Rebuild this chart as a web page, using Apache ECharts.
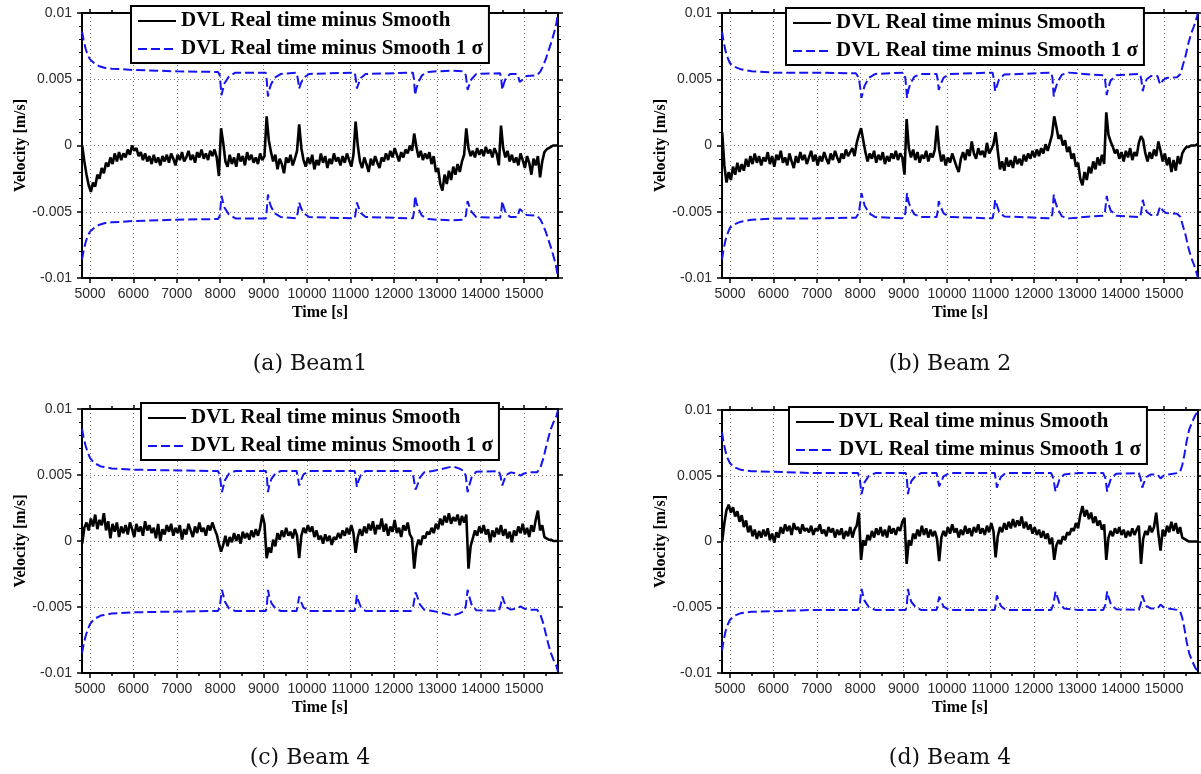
<!DOCTYPE html>
<html><head><meta charset="utf-8">
<script src="https://cdn.jsdelivr.net/npm/echarts@6/dist/echarts.min.js"></script>
<style>html,body{margin:0;padding:0;background:#fff;}#c{width:1201px;height:774px;}</style>
</head><body><div id="c"></div>
<script>
// ---- axis range and tick values ----
const X_MIN = 4816, X_MAX = 15783;
const xTickLabels = [5000,6000,7000,8000,9000,10000,11000,12000,13000,14000,15000];
const xMinorTicks = [5500,6500,7500,8500,9500,10500,11500,12500,13500,14500,15500];
const NAME1 = 'DVL Real time minus Smooth';
const NAME2 = 'DVL Real time minus Smooth 1 σ';
const captions = ['(a) Beam1', '(b) Beam 2', '(c) Beam 4', '(d) Beam 4'];

// ---- time samples [s] of the real-time-minus-smooth signal ----
const T = [
4820,4870,4920,4970,5020,5070,5120,5170,5220,5270,5320,5370,5420,5470,5520,5570,5620,5670,5720,5770,
5820,5870,5920,5970,6020,6070,6120,6170,6220,6270,6320,6370,6420,6470,6520,6570,6620,6670,6720,6770,
6820,6870,6920,6970,7020,7070,7120,7170,7220,7270,7320,7370,7420,7470,7520,7570,7620,7670,7720,7770,
7820,7870,7920,7970,8020,8070,8120,8170,8220,8270,8320,8370,8420,8470,8520,8570,8620,8670,8720,8770,
8820,8870,8920,8970,9020,9070,9120,9170,9220,9270,9320,9370,9420,9470,9520,9570,9620,9670,9720,9770,
9820,9870,9920,9970,10020,10070,10120,10170,10220,10270,10320,10370,10420,10470,10520,10570,10620,10670,10720,10770,
10820,10870,10920,10970,11020,11070,11120,11170,11220,11270,11320,11370,11420,11470,11520,11570,11620,11670,11720,11770,
11820,11870,11920,11970,12020,12070,12120,12170,12220,12270,12320,12370,12420,12470,12520,12570,12620,12670,12720,12770,
12820,12870,12920,12970,13020,13070,13120,13170,13220,13270,13320,13370,13420,13470,13520,13570,13620,13670,13720,13770,
13820,13870,13920,13970,14020,14070,14120,14170,14220,14270,14320,14370,14420,14470,14520,14570,14620,14670,14720,14770,
14820,14870,14920,14970,15020,15070,15120,15170,15220,15270,15320,15370,15420,15470,15520,15570,15620,15670,15720,15770];

// ---- DVL real time minus smooth, in units of 1e-4 m/s ----
const blackA = [
0,-12,-22,-30,-35,-28,-31,-22,-25,-17,-21,-13,-16,-9,-14,-6,-12,-5,-11,-6,
-9,-3,-7,0,-4,-2,-8,-5,-11,-6,-12,-8,-14,-7,-13,-9,-15,-8,-12,-7,
-13,-6,-10,-15,-7,-11,-5,-12,-9,-4,-11,-7,-13,-5,-9,-3,-10,-6,-11,-4,
-8,-3,-9,-23,13,2,-12,-16,-7,-14,-9,-16,-6,-12,-8,-15,-5,-11,-7,-13,
-9,-14,-6,-11,-8,22,4,-5,-12,-7,-18,-10,-14,-21,-9,-13,-7,-15,-10,-4,
16,-2,-11,-16,-9,-14,-7,-18,-11,-15,-6,-13,-8,-17,-10,-14,-6,-12,-9,-15,
-8,-13,-6,-11,-16,-7,18,0,-12,-17,-9,-14,-20,-10,-15,-8,-13,-17,-9,-12,
-6,-11,-4,-9,-2,-7,-12,-5,-9,-3,-6,0,-4,9,-1,-9,-4,-11,-6,-10,
-5,-14,-8,-20,-17,-29,-34,-22,-29,-19,-26,-16,-22,-14,-20,-12,-7,13,-2,-8,
-4,-9,-2,-7,-3,-8,-1,-6,-3,-9,-2,-6,-15,15,-2,-9,-4,-12,-7,-13,
-9,-15,-6,-11,-17,-8,-13,-22,-10,-15,-8,-24,-12,-5,-3,-2,-1,0,0,0];
const blackB = [
10,-15,-28,-20,-26,-16,-22,-13,-20,-14,-19,-10,-16,-8,-14,-6,-13,-8,-15,-9,
-12,-5,-14,-8,-16,-7,-11,-4,-13,-9,-15,-6,-12,-17,-8,-13,-5,-11,-7,-14,
-9,-4,-12,-7,-15,-8,-12,-5,-10,-14,-6,-11,-4,-9,-13,-6,-10,-3,-8,-5,
-2,-8,2,8,13,4,-5,-12,-6,-10,-4,-13,-7,-11,-5,-14,-8,-12,-6,-10,
-4,-11,-6,-9,-22,20,-2,-9,-3,-11,-5,-13,-7,-10,-4,-12,-6,-9,-3,15,
-3,-12,-7,-15,-9,-13,-6,-11,-16,-20,-10,-5,-11,-3,-8,3,-6,-10,-2,-7,
-4,-9,2,-6,-3,1,10,-4,-18,-12,-19,-9,-16,-11,-17,-8,-14,-10,-15,-7,
-12,-6,-10,-4,-9,-3,-8,-2,-6,1,-4,2,8,22,14,5,8,0,4,-5,
-1,-10,-6,-16,-13,-25,-30,-20,-26,-16,-21,-12,-18,-9,-15,-7,-14,25,8,3,
-1,-6,-3,-10,-5,-12,-4,-9,-2,-11,-5,-8,2,7,4,-6,-12,-5,-10,-3,
-8,3,-4,-12,-6,-15,-9,-20,-11,-19,-8,-14,-6,-3,-1,-1,0,0,0,1];
const blackC = [
-2,10,14,8,17,11,20,9,16,12,21,8,15,2,13,7,14,3,11,6,
12,5,14,9,3,13,7,11,4,15,8,12,6,10,2,13,0,9,5,12,
7,13,4,10,6,12,1,9,5,13,8,3,11,6,14,7,10,4,12,8,
14,9,5,-2,-8,-3,4,-4,3,-1,6,0,5,-2,7,2,6,1,8,3,
9,4,10,20,13,-13,-5,-9,1,-4,6,1,8,3,10,4,7,2,9,4,
-13,4,10,6,12,7,11,3,8,1,4,-2,5,0,4,-3,3,1,6,2,
8,4,10,5,12,6,-9,3,9,4,11,6,13,8,15,5,12,9,17,7,
13,4,11,7,16,6,10,3,12,8,14,5,2,-21,-5,1,-3,4,2,7,
5,10,6,13,9,17,12,19,14,21,13,18,15,20,12,19,14,20,-21,-4,
2,8,4,11,6,12,5,9,-1,8,3,10,5,12,4,9,2,7,-1,8,
4,11,6,13,5,10,3,12,7,16,23,8,12,3,2,1,1,0,0,0];
const blackD = [
0,14,24,28,22,26,19,23,15,20,11,16,7,12,4,9,2,8,3,9,
4,10,1,6,-1,7,3,11,6,13,8,12,5,14,9,11,6,13,8,10,
7,12,5,10,8,13,6,9,4,11,7,10,3,9,5,10,2,8,4,11,
3,9,12,22,-14,1,-3,5,1,8,3,10,5,11,4,9,3,12,6,10,
5,11,8,15,18,-17,1,-3,6,2,9,4,12,5,10,3,9,4,8,2,
-15,3,8,4,11,6,13,7,10,3,9,5,12,6,10,4,11,7,13,6,
10,5,12,7,14,8,-12,4,11,7,14,9,15,10,17,11,16,12,19,10,
15,9,13,6,11,5,9,3,8,2,6,-2,3,-14,-3,1,-2,4,1,7,
5,10,8,14,10,20,27,19,24,17,22,14,19,12,16,9,13,-14,3,8,
4,10,6,11,5,9,3,8,4,10,5,9,12,-17,2,8,5,12,7,11,
22,6,-7,9,4,12,7,15,8,14,6,11,3,2,1,0,0,0,0,0];

// ---- 1 sigma envelope [time s, sigma in 1e-4 m/s]; plotted as +sigma and -sigma ----
const sigmaA = [[4816,86],[4850,80],[4900,73],[4950,68],[5000,65],[5100,62],[5200,60],[5350,58.5],[5500,58],[6000,57],[7000,56],[7950,55.5],[7990,53],[8030,38],[8060,42],[8100,47],[8200,52],[8350,55],[9050,55],[9070,50],[9100,37],[9130,42],[9170,46],[9250,51],[9400,54],[9760,55],[9790,50],[9820,43],[9860,47],[9920,51],[10050,54],[11100,55],[11125,50],[11150,43],[11180,46],[11240,51],[11350,54],[12440,55],[12465,50],[12490,38],[12520,43],[12570,48],[12650,53],[12800,55.5],[13000,56],[13300,56.5],[13600,56],[13660,53],[13700,42],[13730,45],[13790,50],[13900,54],[14450,54.5],[14475,50],[14500,42],[14530,46],[14580,51],[14680,54],[14850,54],[14900,48],[14930,47],[14980,50],[15060,52.5],[15300,53],[15380,56],[15440,60],[15510,66],[15570,72],[15640,79],[15700,86],[15750,93],[15783,100]];
const sigmaB = [[4816,86],[4850,79],[4900,71],[4950,66],[5000,62],[5100,59.5],[5250,57.5],[5500,56],[6000,55],[7000,55],[7900,54.5],[7970,51],[8030,36],[8060,40],[8100,45],[8200,51],[8350,54],[9000,55],[9040,51],[9080,36],[9110,42],[9160,47],[9250,52],[9400,54],[9760,54],[9790,49],[9810,42],[9850,46],[9920,51],[10050,54],[11050,55],[11080,50],[11110,41],[11140,44],[11200,50],[11320,53.5],[12400,55],[12430,51],[12460,37],[12490,42],[12550,48],[12650,53.5],[12800,55],[13000,54.5],[13300,53.5],[13600,53],[13640,50],[13680,38],[13710,43],[13770,49],[13900,53],[14450,54],[14480,49],[14510,41],[14540,45],[14600,50],[14700,52.5],[14850,52.5],[14890,48],[14920,46],[14970,49],[15050,51],[15300,51.5],[15380,54],[15430,60],[15500,68],[15560,77],[15630,85],[15690,90],[15740,95],[15783,100]];
const sigmaC = [[4816,85],[4850,79],[4900,72],[4950,67],[5000,63],[5100,59],[5250,56.5],[5500,55],[6000,54],[7000,53.5],[7950,53],[7990,50],[8040,37],[8070,41],[8110,46],[8200,51],[8350,53],[9050,53],[9075,49],[9100,37],[9130,42],[9180,47],[9280,51.5],[9400,53],[9760,53],[9790,48],[9820,42],[9860,46],[9920,50.5],[10050,53],[11100,53],[11125,48],[11150,41],[11180,45],[11240,50],[11350,53],[12400,53],[12450,49],[12500,39],[12540,42],[12600,48],[12700,52],[12900,53],[13100,54.5],[13350,56.5],[13500,55],[13620,53],[13660,49],[13700,37],[13730,41],[13790,48],[13900,52.5],[14420,53],[14460,49],[14500,42],[14530,45],[14590,50],[14700,52],[14850,51],[14920,49.5],[14990,51],[15100,52],[15300,52],[15380,56],[15440,62],[15500,70],[15560,78],[15620,85],[15680,90],[15750,95],[15783,99]];
const sigmaD = [[4816,83],[4850,76],[4900,68],[4950,63],[5000,59.5],[5100,56.5],[5250,54.5],[5500,53.5],[6000,53],[7000,52],[7950,52],[7990,48],[8030,36],[8060,40],[8100,45],[8200,50],[8350,52],[9050,52],[9075,48],[9100,36],[9130,41],[9180,46],[9280,50],[9400,52],[9760,52],[9790,47],[9820,42],[9860,45],[9920,49.5],[10050,52],[11100,52],[11125,47],[11150,41],[11180,44],[11240,49],[11350,52],[12400,52],[12450,48],[12500,38],[12530,41],[12590,47],[12700,51],[13000,52],[13600,52],[13650,48],[13690,38],[13720,42],[13780,48],[13900,51.5],[14420,52],[14460,48],[14500,41],[14530,44],[14590,49],[14700,51],[14850,51],[14920,48],[14990,50],[15100,51],[15300,52],[15370,53],[15420,58],[15470,66],[15520,76],[15580,85],[15650,91],[15720,96],[15783,99]];

// ---- layout (positions only) ----
const layout = [
  {left:82,  top:13,  width:476, height:265, legLeft:131, legTop:6,   capX:310, capY:364},
  {left:722, top:13,  width:476, height:265, legLeft:786, legTop:8,   capX:950, capY:364},
  {left:82,  top:409, width:476, height:264, legLeft:141, legTop:403, capX:310, capY:758},
  {left:722, top:410, width:476, height:263, legLeft:789, legTop:407, capX:950, capY:758}
];
const blackSets = [blackA, blackB, blackC, blackD];
const sigmaSets = [sigmaA, sigmaB, sigmaC, sigmaD];
const BLUE = '#1414f0';
const UNIT = 1e-4;

const grids = [], xAxes = [], yAxes = [], series = [], legends = [], graphics = [];
const labelFont = {fontFamily: 'Liberation Sans', fontSize: 14, color: '#2a2a2a'};
const nameFont = {fontFamily: 'Liberation Serif', fontWeight: 'bold', fontSize: 16, color: '#000'};
const gridLineStyle = {color: '#7a7a7a', width: 1, type: [1, 3]};
const tickLS = {color: '#000', width: 1.5};

layout.forEach((L, p) => {
  grids.push({left: L.left, top: L.top, width: L.width, height: L.height,
    containLabel: false, outerBoundsMode: 'none', show: false});
  const axLine = {show: true, onZero: false, lineStyle: {color: '#000', width: 2}};
  const noLine = {show: false, onZero: false};
  const baseX = {type: 'value', gridIndex: p, min: X_MIN, max: X_MAX,
    splitLine: {show: false}, axisLabel: {show: false}, minorTick: {show: false},
    axisPointer: {show: false}};
  xAxes.push(Object.assign({}, baseX, {position: 'bottom', axisLine: axLine,
    name: 'Time [s]', nameLocation: 'middle', nameGap: 27, nameTextStyle: nameFont, nameMoveOverlap: false,
    axisLabel: Object.assign({show: true, customValues: xTickLabels, margin: 9, hideOverlap: false,
      formatter: v => String(Math.round(v))}, labelFont),
    axisTick: {show: true, customValues: xTickLabels, length: 5, lineStyle: tickLS},
    splitLine: {show: true, lineStyle: gridLineStyle}}));
  xAxes.push(Object.assign({}, baseX, {position: 'bottom', axisLine: noLine,
    axisTick: {show: true, customValues: xMinorTicks, length: 3, lineStyle: tickLS}}));
  xAxes.push(Object.assign({}, baseX, {position: 'top', axisLine: axLine,
    axisTick: {show: true, customValues: xTickLabels, length: 4, lineStyle: tickLS}}));
  xAxes.push(Object.assign({}, baseX, {position: 'top', axisLine: noLine,
    axisTick: {show: true, customValues: xMinorTicks, length: 3, lineStyle: tickLS}}));

  const baseY = {type: 'value', gridIndex: p, min: -0.01, max: 0.01, interval: 0.005,
    axisLine: axLine, axisLabel: {show: false}, splitLine: {show: false},
    axisTick: {show: true, length: 5, lineStyle: tickLS},
    minorTick: {show: true, splitNumber: 5, length: 3, lineStyle: {color: '#000', width: 1}},
    axisPointer: {show: false}};
  yAxes.push(Object.assign({}, baseY, {position: 'left',
    name: 'Velocity [m/s]', nameLocation: 'middle', nameGap: 53, nameTextStyle: nameFont, nameMoveOverlap: false,
    axisLabel: Object.assign({show: true, margin: 10,
      formatter: v => String(Math.round(v * 1e4) / 1e4)}, labelFont),
    splitLine: {show: true, lineStyle: gridLineStyle}}));
  yAxes.push(Object.assign({}, baseY, {position: 'right'}));

  const blk = blackSets[p], sig = sigmaSets[p];
  series.push({type: 'line', name: NAME1, xAxisIndex: 4 * p, yAxisIndex: 2 * p,
    data: T.map((t, i) => [t, blk[i] * UNIT]), symbol: 'none', z: 3,
    lineStyle: {color: '#000', width: 2.6}, itemStyle: {color: '#000'}});
  series.push({type: 'line', name: NAME2, xAxisIndex: 4 * p, yAxisIndex: 2 * p,
    data: sig.map(d => [d[0], d[1] * UNIT]), symbol: 'none', z: 2,
    lineStyle: {color: BLUE, width: 2, type: [9, 4]}, itemStyle: {color: BLUE}});
  series.push({type: 'line', name: NAME2, xAxisIndex: 4 * p, yAxisIndex: 2 * p,
    data: sig.map(d => [d[0], -d[1] * UNIT]), symbol: 'none', z: 2,
    lineStyle: {color: BLUE, width: 2, type: [9, 4]}, itemStyle: {color: BLUE}});

  legends.push({left: L.legLeft, top: L.legTop, orient: 'vertical', data: [NAME1, NAME2],
    selectedMode: false, backgroundColor: '#fff', borderColor: '#000', borderWidth: 2, borderRadius: 0,
    padding: [4, 6, 3, 6], itemGap: 6, itemWidth: 38, itemHeight: 14,
    itemStyle: {opacity: 0}, lineStyle: {width: 2},
    textStyle: {fontFamily: 'Liberation Serif', fontWeight: 'bold', fontSize: 21, color: '#000', lineHeight: 22}});

  graphics.push({type: 'text', x: L.capX, y: L.capY,
    style: {text: captions[p], font: '22px "DejaVu Serif"', fill: '#111',
      align: 'center', verticalAlign: 'middle', textAlign: 'center', textVerticalAlign: 'middle'}});
});

const chart = echarts.init(document.getElementById('c'), null, {renderer: 'canvas'});
chart.setOption({
  animation: false,
  backgroundColor: '#fff',
  grid: grids, xAxis: xAxes, yAxis: yAxes, series: series,
  legend: legends, graphic: graphics
});
</script></body></html>
